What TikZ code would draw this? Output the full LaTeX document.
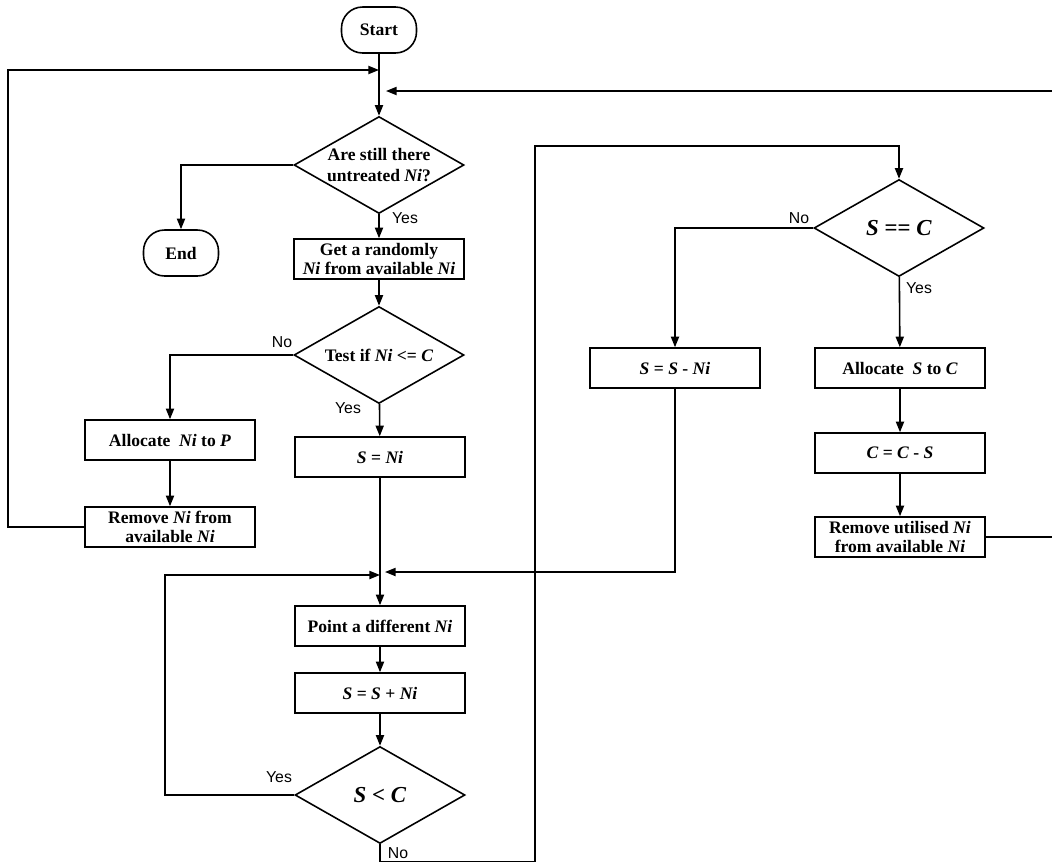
\documentclass[tikz,border=0pt]{standalone}
\usepackage{fontspec}
\setmainfont{Liberation Serif}
\newfontfamily\answerfont{Liberation Sans}
\usetikzlibrary{shapes.geometric,arrows.meta}
\tikzset{
        terminal/.style={draw, rectangle, rounded corners=12pt, line width=0.9pt, minimum width=1.5cm, minimum height=0.92cm, font=\bfseries\fontsize{10}{12}\selectfont},
        process/.style={draw, rectangle, line width=0.9pt, minimum width=3.4cm, minimum height=0.8cm, inner sep=1pt, align=center, font=\bfseries\fontsize{10}{11}\selectfont},
        decision/.style={draw, diamond, aspect=1.77, line width=0.9pt, minimum width=3.4cm, minimum height=1.94cm, inner sep=0pt, align=center, font=\bfseries\fontsize{10}{12}\selectfont},
        bigdecision/.style={decision, font=\bfseries\fontsize{13}{15}\selectfont},
        answer/.style={inner sep=0pt, font=\answerfont\fontsize{9}{10}\selectfont},
        flow/.style={line width=0.9pt, -{Triangle[length=6pt,width=4.6pt]}},
        wire/.style={line width=0.9pt}
          }
\begin{document}
\begin{tikzpicture}[x=0.02cm, y=-0.02cm]
        \useasboundingbox (0,0) rectangle (1052,863);
        \clip (0,0) rectangle (1052,863);
        % left column
        \node[terminal] (start) at (379,30) {Start};
        \node[decision] (dec1) at (379,165) {Are still there\\untreated \textit{Ni}?};
        \node[terminal] (end) at (181,253) {End};
        \node[process] (getNi) at (379,259) {Get a randomly\\\textit{Ni} from available \textit{Ni}};
        \node[decision] (dec2) at (379,355) {Test if \textit{Ni} <= \textit{C}};
        \node[process] (alloc) at (170,440) {Allocate \ \textit{Ni} to \textit{P}};
        \node[process] (remove) at (170,527) {Remove \textit{Ni} from\\available \textit{Ni}};
        \node[process] (sni) at (380,457) {\textit{S} = \textit{Ni}};
        \node[process] (point) at (380,626) {Point a different \textit{Ni}};
        \node[process] (ssum) at (380,693) {\textit{S} = \textit{S} + \textit{Ni}};
        \node[bigdecision] (dec3) at (380,795) {\textit{S} < \textit{C}};
        % right column
        \node[bigdecision] (dec4) at (899,228) {\textit{S} == \textit{C}};
        \node[process] (ssub) at (675,368) {\textit{S} = \textit{S} - \textit{Ni}};
        \node[process] (allocS) at (900,368) {Allocate \ \textit{S} to \textit{C}};
        \node[process] (csub) at (900,453) {\textit{C} = \textit{C} - \textit{S}};
        \node[process] (remU) at (900,537) {Remove utilised \textit{Ni}\\from available \textit{Ni}};
        % answers
        \node[answer] (yesA) at (405,218) {Yes};
        \node[answer] (noB) at (282,342) {No};
        \node[answer] (yesB) at (348,408) {Yes};
        \node[answer] (yesC) at (279,777) {Yes};
        \node[answer] (noC) at (398,853) {No};
        \node[answer] (noD) at (799,218) {No};
        \node[answer] (yesD) at (919,288) {Yes};
        % joints
        \coordinate (inA) at (379,70);
        \coordinate (inB) at (386,91);
        \coordinate (inC) at (380,575);
        \coordinate (inD) at (385,572);
        \coordinate (turnB) at (535,146);
        % connectors
        \draw[flow] (start) -- (dec1);
        \draw[flow] (dec1.west) -| (end.north);
        \draw[flow] (dec1) -- (getNi);
        \draw[flow] (getNi) -- (dec2);
        \draw[flow] (dec2.west) -| (alloc.north);
        \draw[flow] (alloc) -- (remove);
        \draw[flow] (dec2) -- (sni);
        \draw[flow] (remove.west) -- ++(-76,0) |- (inA);
        \draw[flow] (remU.east) -- ++(80,0) |- (inB);
        \draw[flow] (sni) -- (point);
        \draw[flow] (point) -- (ssum);
        \draw[flow] (ssum) -- (dec3);
        \draw[flow] (dec3.west) -- ++(-129,0) |- (inC);
        \draw[flow] (ssub.south) |- (inD);
        \draw[flow] (dec3.south) -- ++(0,17) -| (turnB) -| (dec4.north);
        \draw[flow] (dec4.west) -| (ssub.north);
        \draw[flow] (dec4) -- (allocS);
        \draw[flow] (allocS) -- (csub);
        \draw[flow] (csub) -- (remU);
\end{tikzpicture}
\end{document}
